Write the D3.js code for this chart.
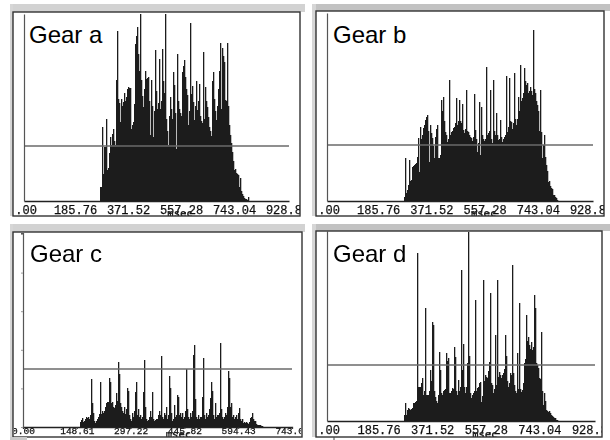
<!DOCTYPE html>
<html>
<head>
<meta charset="utf-8">
<script src="https://cdnjs.cloudflare.com/ajax/libs/d3/7.8.5/d3.min.js"></script>
<style>
  html, body { margin: 0; padding: 0; background: #fff; }
  svg { display: block; }
</style>
</head>
<body>
<div id="chart"></div>
<script>
  // histogram heights, one value per bin
  var gearA = [14,14,74,27,54,54,82,31,33,48,64,56,67,72,60,56,121,170,102,98,79,102,95,99,108,100,104,112,114,113,113,72,76,79,97,157,165,174,147,130,187,121,105,94,112,130,122,123,124,100,66,121,95,64,90,151,110,92,98,142,92,100,152,120,108,187,82,70,56,85,104,92,82,129,116,88,52,147,100,92,88,85,129,135,141,124,112,106,76,90,178,107,115,99,81,95,120,91,100,117,85,80,78,149,82,114,100,94,84,74,70,65,120,129,102,90,81,95,112,130,158,92,153,145,139,101,100,158,95,76,66,58,49,40,31,32,28,27,26,14,23,10,7,5,3,2,2,1,4];
  var gearB = [4,43,8,11,16,41,20,21,34,35,36,37,38,44,63,29,74,62,66,73,76,81,84,86,70,39,76,68,63,55,43,64,72,76,43,43,46,101,90,104,80,69,66,59,62,121,66,69,70,73,74,78,103,76,80,101,80,78,97,71,68,72,111,70,69,66,64,63,60,64,107,71,62,49,58,99,46,94,66,62,60,62,134,66,68,70,111,62,58,121,70,66,88,66,61,62,81,64,59,62,64,66,125,69,74,123,80,79,72,78,128,82,76,82,104,90,136,100,103,108,133,120,116,118,108,110,114,110,106,171,112,108,100,96,90,70,111,69,43,56,66,44,36,30,19,20,15,13,12,6,6,4,3,1];
  var gearC = [5,7,9,5,6,8,10,9,10,8,12,48,24,14,6,4,6,8,10,13,45,13,16,14,16,20,24,25,25,49,45,24,25,20,19,22,34,26,65,53,24,20,16,14,20,13,18,39,36,12,8,6,14,10,16,35,45,12,18,10,12,8,10,35,67,20,8,6,7,10,16,10,35,8,6,7,8,8,12,16,12,71,10,8,14,12,20,8,12,51,39,14,6,8,22,10,12,32,30,12,14,10,14,8,10,16,58,18,10,8,14,10,16,72,82,28,10,8,12,8,10,10,30,69,12,8,14,10,12,18,29,45,36,12,8,24,10,12,12,14,84,18,10,8,10,14,12,20,56,49,20,24,10,12,8,10,12,8,14,19,8,6,8,4,5,4,5,4,3,5,9,10,14,8,6,6,3,2,2,2,2,1,1];
  var gearD = [6,18,6,11,13,12,11,12,13,18,18,19,20,168,34,34,34,38,43,26,30,113,26,26,26,30,51,40,99,96,30,24,20,18,26,69,51,28,26,30,31,32,68,60,63,28,28,30,33,32,74,64,30,26,41,30,34,151,51,77,34,28,34,58,189,65,28,23,26,28,30,121,30,33,34,38,39,19,25,141,40,46,44,43,50,59,128,38,36,28,32,86,36,141,44,49,46,43,46,48,52,86,65,40,34,38,48,46,156,48,36,30,28,68,32,118,32,29,31,38,58,62,106,80,84,76,72,79,71,74,126,113,58,56,53,43,42,89,30,16,28,20,11,10,9,10,8,6,5,4,3,3,1,1];

  var gearNames = ["Gear a", "Gear b", "Gear c", "Gear d"];
  var meanLevels = [55, 56, 58, 56];
  var firstBins = [266.4, 268.9, 157.4, 266.9];
  var binWidths = [3.505, 3.49, 2.762, 3.466];
  var ticksWide = [0, 185.76, 371.52, 557.28, 743.04, 928.8];
  var ticksNarrow = [0, 148.61, 297.22, 445.82, 594.43, 743.05];
  var yTicksNarrow = [0, 38.6, 77.2, 115.8, 154.4, 193];

  var svgWidth = 610;
  var svgHeight = 440;

  var svg = d3.select("#chart")
    .append("svg")
    .attr("width", svgWidth)
    .attr("height", svgHeight);

  // the screenshot is soft, so blur the plots a little
  svg.append("defs")
    .append("filter")
    .attr("id", "soft")
    .attr("x", "-5%").attr("y", "-5%")
    .attr("width", "110%").attr("height", "110%")
    .append("feGaussianBlur")
    .attr("stdDeviation", 0.45);

  // window layout for each panel
  var panels = [
    { box: [13, 12, 300, 216], chrome: [10, 4, 295, 8], left: 24, right: 289, top: 14, base: 201, titleX: 29, titleY: 43 },
    { box: [316, 11, 604, 216], chrome: [312, 4, 298, 7], left: 327, right: 593, top: 13, base: 201, titleX: 333, titleY: 43 },
    { box: [13, 232, 302, 437], chrome: [10, 224, 295, 8], left: 23, right: 292, top: 233, base: 427, titleX: 30, titleY: 262 },
    { box: [316, 231, 602, 437], chrome: [312, 224, 298, 7], left: 327, right: 595, top: 231, base: 421, titleX: 333, titleY: 262 }
  ];
  var series = [gearA, gearB, gearC, gearD];

  panels.forEach(function(p, idx) {
    var narrow = idx == 2;
    var ticks = narrow ? ticksNarrow : ticksWide;
    var counts = series[idx];

    // grey window chrome
    svg.append("rect")
      .attr("x", p.chrome[0]).attr("y", p.chrome[1])
      .attr("width", p.chrome[2]).attr("height", p.chrome[3])
      .attr("fill", idx == 1 || idx == 3 ? "#c2c2c2" : "#d2d2d2");
    svg.append("rect")
      .attr("x", p.chrome[0]).attr("y", p.chrome[1])
      .attr("width", p.box[0] - p.chrome[0]).attr("height", p.box[3] - p.chrome[1])
      .attr("fill", "#d6d6d6");

    var xScale = d3.scaleLinear()
      .domain([0, d3.max(ticks)])
      .range([p.left, p.right]);

    var yScale = d3.scaleLinear()
      .domain([0, p.base - p.top])
      .range([p.base, p.top]);

    svg.append("clipPath")
      .attr("id", "clip" + idx)
      .append("rect")
      .attr("x", p.box[0] + (narrow ? 1 : 2))
      .attr("y", p.box[1])
      .attr("width", p.box[2] - p.box[0] - 2)
      .attr("height", p.box[3] - p.box[1]);

    var plot = svg.append("g")
      .attr("clip-path", "url(#clip" + idx + ")")
      .append("g")
      .attr("filter", "url(#soft)");

    // histogram bars
    plot.selectAll("rect")
      .data(counts)
      .enter()
      .append("rect")
      .attr("x", (d, i) => Math.round(xScale(firstBins[idx] + i * binWidths[idx])))
      .attr("y", d => yScale(d))
      .attr("width", 1.3)
      .attr("height", d => p.base - yScale(d))
      .attr("fill", "#1c1c1c");

    // mean line
    plot.append("line")
      .attr("x1", p.left)
      .attr("x2", p.right)
      .attr("y1", yScale(meanLevels[idx]))
      .attr("y2", yScale(meanLevels[idx]))
      .attr("stroke", "#6a6a6a")
      .attr("stroke-width", 1.5);

    // axes
    var bottomAxis = d3.axisBottom(xScale)
      .tickValues(ticks)
      .tickFormat(d3.format(".2f"))
      .tickSize(narrow ? 2 : 0)
      .tickPadding(narrow ? -1.5 : 4);

    var leftAxis = d3.axisLeft(yScale)
      .tickValues(narrow ? yTicksNarrow : [])
      .tickFormat("")
      .tickSize(narrow ? 2 : 0);

    var xGroup = plot.append("g")
      .attr("transform", `translate(0, ${p.base})`)
      .call(bottomAxis);

    var yGroup = plot.append("g")
      .attr("transform", `translate(${p.left}, 0)`)
      .call(leftAxis);

    xGroup.select(".domain").attr("stroke", "#222").attr("stroke-width", 1.3);
    xGroup.selectAll("line").attr("stroke", "#333");
    xGroup.selectAll("text")
      .attr("font-family", "'Liberation Mono', 'DejaVu Sans Mono', monospace")
      .attr("font-size", narrow ? 9.5 : 12)
      .attr("fill", "#111")
      .attr("stroke", "#111")
      .attr("stroke-width", 0.25);
    if (!narrow) {
      xGroup.selectAll("text").attr("dx", "-2");
    }
    yGroup.select(".domain").attr("stroke", "#555").attr("stroke-width", 1.2);
    yGroup.selectAll("line").attr("stroke", "#999");

    // x unit, mostly cut off by the bottom of the window
    plot.append("text")
      .attr("x", xScale(ticks[3]) - (narrow ? 6 : 3))
      .attr("y", p.box[3] + 1)
      .attr("text-anchor", "middle")
      .attr("font-family", "'DejaVu Sans Mono', monospace")
      .attr("font-size", 10.5)
      .attr("font-weight", "bold")
      .attr("fill", "#222")
      .text("msec");

    // window frame
    svg.append("rect")
      .attr("x", p.box[0]).attr("y", p.box[1])
      .attr("width", p.box[2] - p.box[0]).attr("height", p.box[3] - p.box[1])
      .attr("fill", "none")
      .attr("stroke", "#333")
      .attr("stroke-width", 1.4);

    svg.append("text")
      .attr("x", p.titleX)
      .attr("y", p.titleY)
      .attr("font-family", "'Liberation Sans', Arial, sans-serif")
      .attr("font-size", 24)
      .attr("fill", "#000")
      .text(gearNames[idx]);
  });

  // scraps of the next windows along the bottom edge
  svg.append("rect").attr("x", 10).attr("y", 437).attr("width", 17).attr("height", 3).attr("fill", "#c8c8c8");
  svg.append("line").attr("x1", 334).attr("x2", 334).attr("y1", 437).attr("y2", 440).attr("stroke", "#444");
</script>
</body>
</html>
